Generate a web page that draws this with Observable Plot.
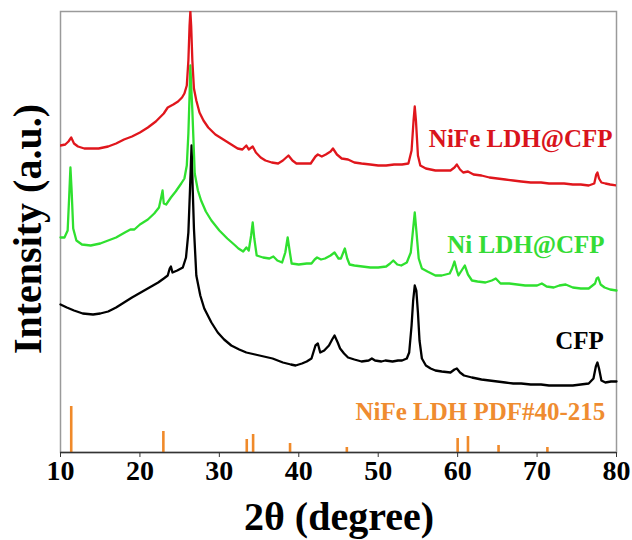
<!DOCTYPE html>
<html>
<head>
<meta charset="utf-8">
<script src="https://cdn.jsdelivr.net/npm/d3@7"></script>
<script src="https://cdn.jsdelivr.net/npm/@observablehq/plot@0.6"></script>
<style>
  html, body { margin: 0; padding: 0; background: #fff; }
  #chart { width: 632px; height: 540px; }
</style>
</head>
<body>
<div id="chart"></div>
<script>
// ---------- data (2θ in degrees, intensity in a.u.) ----------
const nifeTheta = [10.0,10.6,11.0,11.35,11.7,12.2,13.0,13.8,14.8,16.0,17.0,18.0,19.0,20.0,21.0,22.0,23.0,23.5,24.2,24.8,25.3,25.6,25.9,26.1,26.25,26.35,26.45,26.6,26.8,27.1,27.5,28.0,28.6,29.5,30.7,31.5,32.3,32.9,33.4,33.7,34.2,34.6,35.2,35.8,36.6,37.4,38.0,38.7,39.2,39.7,40.5,41.5,42.1,42.4,42.9,43.4,44.0,44.3,44.8,45.4,46.2,47.0,47.9,49.0,50.0,51.0,52.0,53.0,53.8,54.2,54.45,54.6,54.75,55.0,55.3,56.0,57.2,58.0,59.1,59.6,59.9,60.3,60.7,61.3,62.0,63.0,64.0,65.0,66.0,67.0,68.0,69.2,70.5,71.5,72.5,73.4,74.5,75.5,76.5,77.2,77.45,77.6,77.8,78.1,78.6,79.2,80.0];
const nifeI = [307,308,311,315,309,306,304,304,304,306,309,313,316,320,325,331,339,345,348,351,355,359,367,392,427,441,427,392,364,352,340,332,325,318,312,308,304,303,307,303,306,300,295,292,290,289,292,297,292,289,289,289,296,298,296,298,301,304,298,294,293,290,289,288,287,287,288,288,289,302,332,346,332,297,287,284,282,282,282,285,288,283,280,281,278,277,275,274,273,272,271,270,270,269,269,269,268,268,267,269,278,280,274,270,269,268,267];

const niTheta = [10.0,10.5,10.9,11.1,11.25,11.4,11.6,12.0,12.7,13.8,15.0,16.0,17.0,18.1,18.8,19.3,20.0,21.0,21.8,22.4,22.7,22.85,23.0,23.3,23.9,24.5,25.2,25.6,25.9,26.1,26.25,26.35,26.45,26.6,26.9,27.3,27.7,28.3,29.0,30.0,31.0,32.0,32.4,33.0,33.4,33.7,34.0,34.2,34.4,34.7,35.5,36.3,36.8,37.3,37.9,38.3,38.6,38.9,39.1,40.0,41.0,41.6,42.0,42.3,42.8,43.3,44.0,44.5,45.0,45.3,45.6,45.8,46.1,46.4,47.0,48.0,49.0,50.0,51.0,51.5,51.9,52.4,52.9,53.6,54.1,54.4,54.6,54.8,55.1,55.5,56.2,57.2,58.0,59.0,59.3,59.6,59.9,60.1,60.5,60.9,61.3,61.8,62.5,63.5,64.3,64.8,65.4,66.5,67.5,68.5,69.2,70.0,70.6,71.2,72.1,72.8,73.6,74.5,75.5,76.5,77.3,77.5,77.7,78.0,78.5,79.2,80.0];
const niI = [215,215,222,257,285,262,224,212,208,207,209,212,215,220,223,223,228,233,239,245,256,262,249,248,255,261,269,274,287,319,357,387,367,342,279,262,252,241,232,222,214,207,204,201,205,202,217,230,214,197,195,194,196,192,190,200,215,199,189,188,189,189,193,195,193,194,197,200,194,194,200,204,194,188,187,186,185,185,186,189,192,188,187,190,200,224,240,222,194,184,181,177,177,179,184,191,182,177,182,187,178,172,171,170,172,174,169,169,168,167,167,167,169,166,165,167,168,165,164,164,169,174,175,168,165,163,162];

const cfpTheta = [10.0,10.8,11.7,12.8,14.1,15.0,16.0,17.0,18.0,19.0,20.1,21.2,22.3,23.0,23.5,23.75,23.9,24.1,24.7,25.4,25.8,26.1,26.3,26.5,26.65,26.8,27.1,27.6,28.1,29.0,29.8,30.6,31.5,32.5,33.4,34.5,35.6,36.7,38.0,39.0,39.6,40.4,41.0,41.6,42.1,42.4,42.7,43.2,43.8,44.2,44.5,44.9,45.2,45.7,46.2,47.0,47.9,48.8,49.2,49.6,50.4,50.9,51.8,52.5,53.0,53.6,53.9,54.2,54.4,54.6,54.8,55.0,55.2,55.5,56.0,56.6,57.2,58.0,59.1,59.6,59.9,60.3,60.8,61.8,63.0,64.0,65.0,66.0,67.0,68.0,69.2,70.5,71.5,72.5,73.4,74.5,75.5,76.5,77.1,77.4,77.6,77.8,78.1,78.6,79.3,80.0];
const cfpI = [148,145,142,139,138,139,141,145,150,155,160,165,170,174,177,184,186,180,182,185,195,220,262,307,262,224,177,157,144,130,120,113,107,103,100,98,96,94,90,88,87,89,91,94,107,109,100,102,107,113,117,110,104,99,95,93,91,92,94,92,91,92,91,92,92,94,100,127,152,167,162,140,112,94,87,84,82,81,80,83,84,80,77,75,73,72,71,70,69,69,68,68,67,67,67,67,68,69,74,86,90,84,72,70,71,71];

// NiFe LDH reference pattern (PDF#40-215): peak positions and relative heights
const pdfTheta = [11.35,22.95,33.45,34.25,38.9,46.05,60.0,61.3,65.15,71.3];
const pdfI = [46,21,13,18,9,5,14,16,7,5];

// axis ticks and labels
const xTicks = [10,20,30,40,50,60,70,80];
const seriesNames = ["NiFe LDH@CFP","Ni LDH@CFP","CFP","NiFe LDH PDF#40-215"];
const seriesColors = ["#e0161c","#2fe02f","#000000","#f08a2a"];
const labelColors = ["#d9141c","#35dc35","#000000","#ef8c30"];
const labelTheta = [79.5,78.5,78.4,78.6];
const labelI = [314,208,112,41];

const xTitle = "2θ (degree)";
const yTitle = "Intensity (a.u.)";

// ---------- build tables ----------
const toRows = (t, v) => t.map((d, i) => ({t: d, i: v[i]}));
const nife = toRows(nifeTheta, nifeI);
const ni = toRows(niTheta, niI);
const cfp = toRows(cfpTheta, cfpI);
const pdf = toRows(pdfTheta, pdfI);
const labels = seriesNames.map((n, k) => ({name: n, t: labelTheta[k], i: labelI[k], c: labelColors[k]}));

const serif = "'Liberation Serif', 'Times New Roman', serif";

const chart = Plot.plot({
  width: 632,
  height: 540,
  marginLeft: 60,
  marginRight: 16,
  marginTop: 11,
  marginBottom: 88,
  style: {fontFamily: serif, background: "white", color: "#000"},
  x: {domain: [10, 80]},
  y: {domain: [0, 441], axis: null},
  marks: [
    Plot.frame({stroke: "#9a9a9a", strokeWidth: 1.5}),
    Plot.ruleX(pdf, {x: "t", y1: 0, y2: "i", stroke: seriesColors[3], strokeWidth: 2.6}),
    Plot.line(cfp, {x: "t", y: "i", stroke: seriesColors[2], strokeWidth: 2.3}),
    Plot.line(ni, {x: "t", y: "i", stroke: seriesColors[1], strokeWidth: 2.3}),
    Plot.line(nife, {x: "t", y: "i", stroke: seriesColors[0], strokeWidth: 2.3, clip: true}),
    Plot.ruleY([0], {stroke: "#333", strokeWidth: 1.5}),
    Plot.axisX({ticks: xTicks, tickSize: 5, tickPadding: 3, label: null, fontSize: 28, fontWeight: "bold", fontFamily: serif, stroke: "#333"}),
    Plot.text(labels, {x: "t", y: "i", text: "name", fill: "c", textAnchor: "end", lineAnchor: "middle", fontSize: 25, fontWeight: "bold", fontFamily: serif})
  ]
});

document.getElementById("chart").appendChild(chart);

const svg = d3.select(chart);
svg.append("text")
  .attr("x", 339).attr("y", 530)
  .attr("text-anchor", "middle")
  .attr("font-family", serif).attr("font-weight", "bold").attr("font-size", 40)
  .attr("fill", "#000")
  .text(xTitle);
svg.append("text")
  .attr("transform", "translate(41,229) rotate(-90)")
  .attr("text-anchor", "middle")
  .attr("font-family", serif).attr("font-weight", "bold").attr("font-size", 40)
  .attr("fill", "#000")
  .text(yTitle);
</script>
</body>
</html>
